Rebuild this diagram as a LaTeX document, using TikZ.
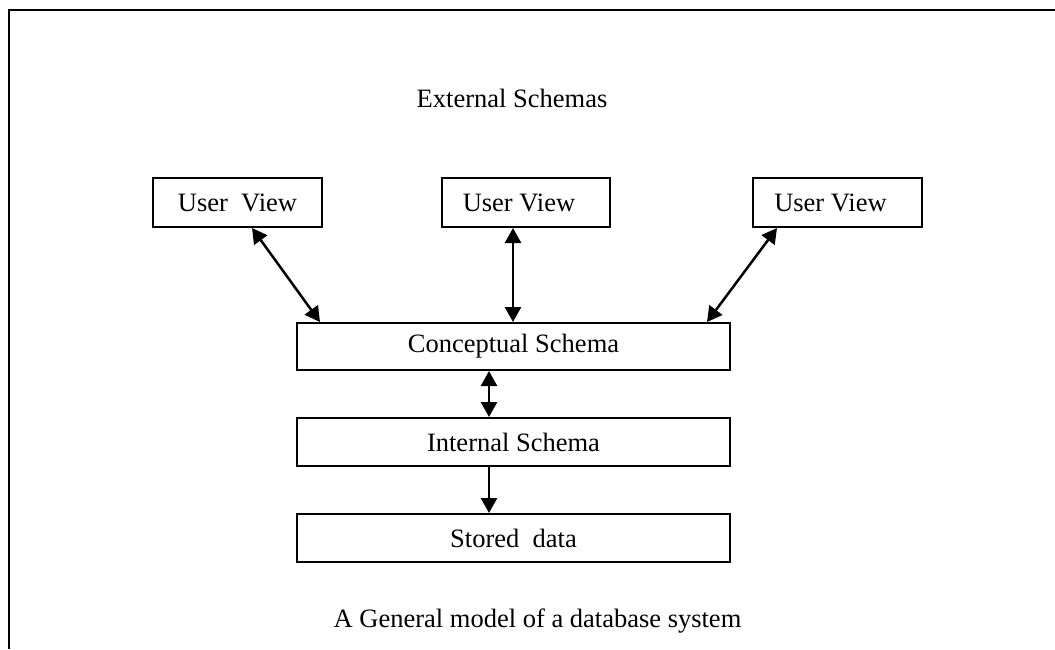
\documentclass[tikz,border=0pt]{standalone}
\usepackage{fontspec}
\setmainfont{Liberation Serif}
\usetikzlibrary{arrows.meta,calc}
\begin{document}
\begin{tikzpicture}[x=1pt,y=-1pt,
  every node/.style={font=\fontsize{26.5}{30}\selectfont, inner sep=0pt},
  schemabox/.style={draw, line width=2pt, minimum height=#1, anchor=center},
  link/.style={line width=2.5pt, -{Triangle[length=15pt,width=16pt]}},
  dlink/.style={line width=2.5pt, {Triangle[length=15pt,width=16pt]}-{Triangle[length=15pt,width=16pt]}}]
  \useasboundingbox (0,0) rectangle (1055,649);
  % outer frame (open on the right and at the bottom)
  \coordinate (fb) at (9,649);
  \coordinate (fc) at (9,10);
  \coordinate (fr) at (1055,10);
  \draw[line width=2.5pt] (fb) -- (fc) -- (fr);

  \node (ext) at (512,98) {External Schemas};

  % user views
  \node[schemabox=49pt, minimum width=169pt] (u1) at (237.5,202.5) {\raisebox{-2pt}{User\ \ View}};
  \node[schemabox=49pt, minimum width=168pt] (u2) at (526,202.5) {\raisebox{-2pt}{User View}\hspace*{14pt}};
  \node[schemabox=49pt, minimum width=169pt] (u3) at (837.5,202.5) {\raisebox{-2pt}{User View}\hspace*{14pt}};

  % schema levels
  \node[schemabox=47pt, minimum width=433pt] (cs) at (513.5,346.5) {Conceptual Schema};
  \node[schemabox=48pt, minimum width=433pt] (is) at (513.5,442) {Internal Schema};
  \node[schemabox=48pt, minimum width=433pt] (sd) at (513.5,538) {Stored\ \ data};

  \node (cap) at (537.5,621) {A General model of a database system};

  % mappings
  \draw[dlink] ([xshift=14.5pt]u1.south) -- ([xshift=-193.5pt]cs.north);
  \draw[dlink] ([xshift=-13pt]u2.south) -- ([xshift=-0.5pt]cs.north);
  \draw[dlink] ([xshift=-60.5pt]u3.south) -- ([xshift=193.5pt]cs.north);
  \draw[dlink] ([xshift=-24.5pt]cs.south) -- ([xshift=-24.5pt]is.north);
  \draw[link] ([xshift=-24.5pt]is.south) -- ([xshift=-24.5pt]sd.north);
\end{tikzpicture}
\end{document}
